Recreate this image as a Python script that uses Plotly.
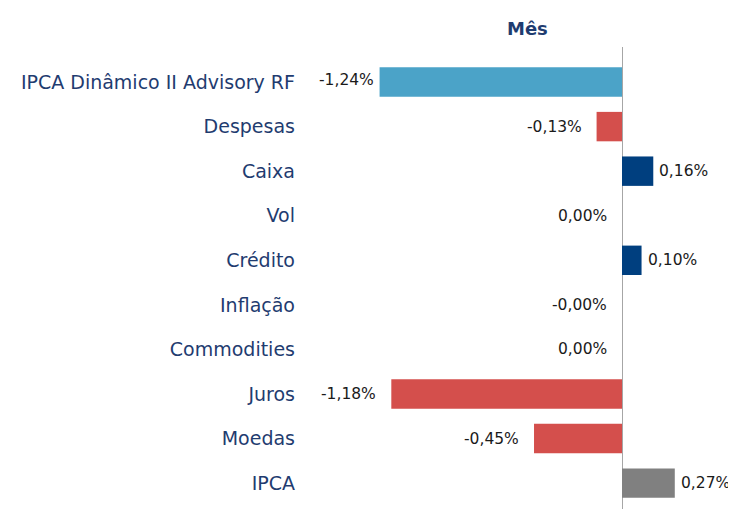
import plotly.graph_objects as go

categories = ["IPCA Dinâmico II Advisory RF", "Despesas", "Caixa", "Vol", "Crédito",
              "Inflação", "Commodities", "Juros", "Moedas", "IPCA"]
values = [-1.24, -0.13, 0.16, 0.00, 0.10, -0.0, 0.00, -1.18, -0.45, 0.27]
labels = ["-1,24%", "-0,13%", "0,16%", "0,00%", "0,10%", "-0,00%", "0,00%", "-1,18%", "-0,45%", "0,27%"]
groups = ["fund", "neg", "pos", "pos", "pos", "neg", "pos", "neg", "neg", "bench"]

palette = {"fund": "#4BA3C8", "neg": "#D44F4C", "pos": "#003F7F", "bench": "#808080"}
bar_colors = [palette[g] for g in groups]

idx = list(range(len(categories)))

# page has an 8px body offset; size the figure so it fits the window without scrollbars
OFF = 8
px_per_unit = 195.5
plot_left = 300 - OFF
zero_px = 622 - OFF
fig_w = 736 - OFF
fig_h = 509 - OFF

fig = go.Figure()
fig.add_trace(go.Bar(
    y=idx, x=values, orientation="h", marker=dict(color=bar_colors, line=dict(width=0)),
    width=0.66, hoverinfo="skip",
))

annotations = []
for i, (v, t) in enumerate(zip(values, labels)):
    if v > 0:
        xa, xs, ys = "left", 4, 0
    else:
        xa, xs, ys = "right", -13, 0
    if i == 0:
        xs, ys = -4, 2
    annotations.append(dict(
        x=v, y=i, xref="x", yref="y", text=t, showarrow=False, xanchor=xa, xshift=xs,
        yshift=ys, font=dict(family="DejaVu Sans", size=15.5, color="#1a1a1a"),
    ))

annotations.append(dict(
    text="<b>Mês</b>", xref="paper", yref="paper",
    x=(527 - 300) / (fig_w - plot_left), y=1, yshift=6, yanchor="bottom", showarrow=False,
    font=dict(family="DejaVu Sans", size=18, color="#1F3C70")))

fig.update_layout(
    width=fig_w, height=fig_h,
    margin=dict(l=plot_left, r=0, t=47 - OFF, b=0),
    paper_bgcolor="white", plot_bgcolor="white",
    showlegend=False,
    font=dict(family="DejaVu Sans"),
    xaxis=dict(range=[(plot_left - zero_px) / px_per_unit, (fig_w - zero_px) / px_per_unit],
               showgrid=False, showticklabels=False, zeroline=True, zerolinecolor="#A6A6A6",
               zerolinewidth=1, fixedrange=True),
    yaxis=dict(range=[9.58, -0.786], tickmode="array",
               tickvals=idx, ticktext=categories,
               showgrid=False, zeroline=False, ticks="", ticklabelstandoff=4,
               tickfont=dict(family="DejaVu Sans", size=19, color="#1F3C70")),
    annotations=annotations,
)

fig.write_html("out.html")
